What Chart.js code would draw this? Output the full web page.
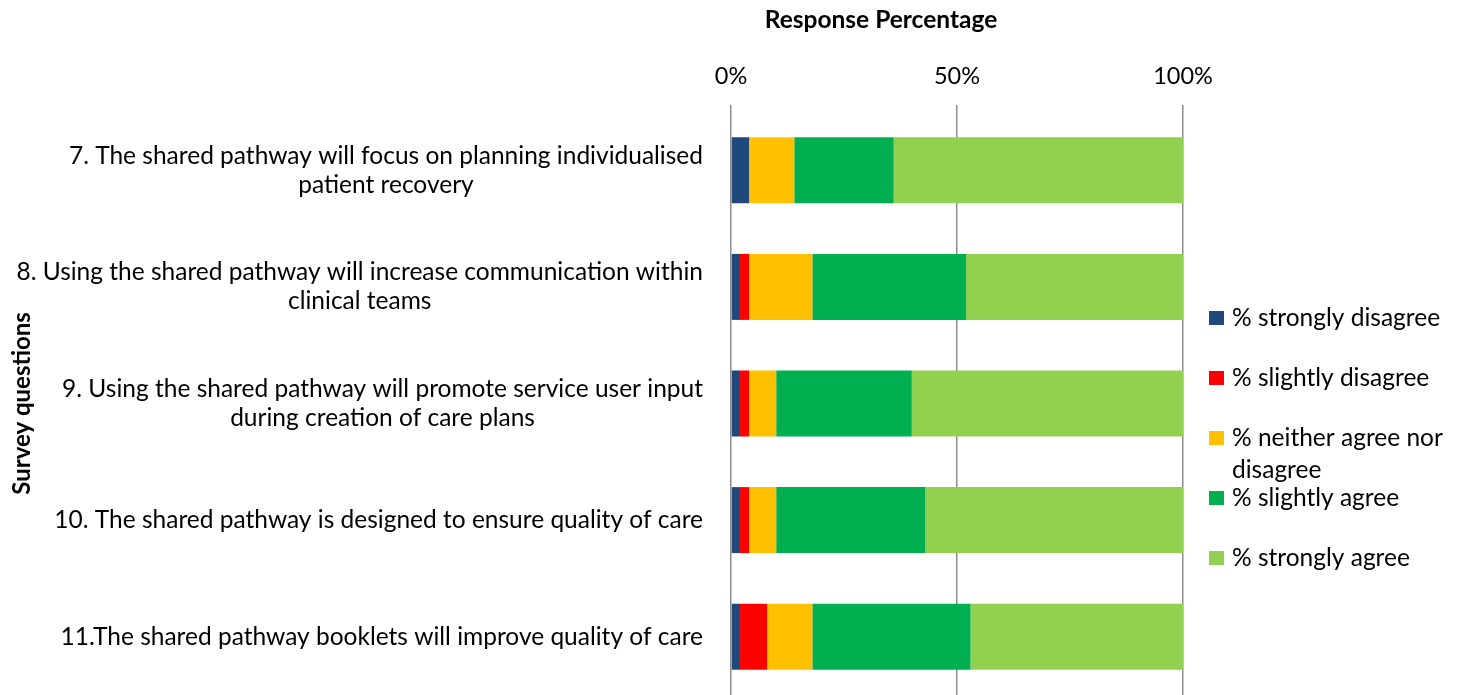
<!DOCTYPE html>
<html>
<head>
<meta charset="utf-8">
<script src="https://cdn.jsdelivr.net/npm/chart.js@4"></script>
<style>
html,body{margin:0;padding:0;background:#fff;}
#wrap{width:1462px;height:695px;position:relative;}
</style>
</head>
<body>
<div id="wrap"><canvas id="c" width="1462" height="695"></canvas></div>
<script>
const categories = [
  ["7. The shared pathway will focus on planning individualised", "patient recovery"],
  ["8. Using the shared pathway will increase communication within", "clinical teams"],
  ["9. Using the shared pathway will promote service user input", "during creation of care plans"],
  ["10. The shared pathway is designed to ensure quality of care"],
  ["11.The shared pathway booklets will improve quality of care"]
];
const seriesNames = ["% strongly disagree", "% slightly disagree", "% neither agree nor disagree", "% slightly agree", "% strongly agree"];
const stronglyDisagree = [4, 2, 2, 2, 2];
const slightlyDisagree = [0, 2, 2, 2, 6];
const neitherAgree     = [10, 14, 6, 6, 10];
const slightlyAgree    = [22, 34, 30, 33, 35];
const stronglyAgree    = [64, 48, 60, 57, 47];
const xTicks = [0, 50, 100];
const xTitle = "Response Percentage";
const yTitle = "Survey questions";
const colors = ["#1F497D", "#FF0000", "#FFC000", "#00B050", "#92D050"];

const FONT = "Lato, 'Open Sans', sans-serif";
const LABEL_SIZE = 24.5;

const seriesValues = [stronglyDisagree, slightlyDisagree, neitherAgree, slightlyAgree, stronglyAgree];

const customDraw = {
  id: 'customDraw',
  afterDraw(chart) {
    const ctx = chart.ctx;
    const ca = chart.chartArea;
    const yScale = chart.scales.y;
    ctx.save();
    ctx.fillStyle = '#000';
    ctx.font = LABEL_SIZE + 'px ' + FONT;
    ctx.textBaseline = 'middle';
    ctx.textAlign = 'center';
    const lineH = 29;
    const rightEdge = ca.left - 28;
    categories.forEach((lines, i) => {
      const cy = yScale.getPixelForTick(i);
      let maxW = 0;
      lines.forEach(l => { maxW = Math.max(maxW, ctx.measureText(l).width); });
      const cx = rightEdge - maxW / 2;
      const startY = cy - (lines.length - 1) * lineH / 2;
      lines.forEach((l, k) => ctx.fillText(l, cx, startY + k * lineH));
    });
    ctx.font = 'bold 24.5px ' + FONT;
    ctx.fillText(xTitle, ca.left + 150, 20);
    ctx.font = LABEL_SIZE + 'px ' + FONT;
    ctx.textAlign = 'left';
    const legX = ca.right + 26;
    let legY = 318;
    const maxTextW = 222;
    chart.data.datasets.forEach((ds, i) => {
      ctx.fillStyle = ds.backgroundColor;
      ctx.fillRect(legX, legY - 7, 15, 14);
      ctx.fillStyle = '#000';
      const words = ds.label.split(' ');
      const lines = [];
      let cur = '';
      words.forEach(w => {
        const t = cur ? cur + ' ' + w : w;
        if (ctx.measureText(t).width > maxTextW && cur) { lines.push(cur); cur = w; } else { cur = t; }
      });
      lines.push(cur);
      lines.forEach((l, k) => ctx.fillText(l, legX + 23, legY + k * 32));
      legY += 60;
    });
    ctx.restore();
  }
};

new Chart(document.getElementById('c'), {
  type: 'bar',
  data: {
    labels: categories.map(c => c.join(' ')),
    datasets: seriesNames.map((n, i) => ({
      label: n,
      data: seriesValues[i],
      backgroundColor: colors[i],
      borderWidth: 0,
      barPercentage: 0.566,
      categoryPercentage: 1.0
    }))
  },
  options: {
    indexAxis: 'y',
    responsive: false,
    animation: false,
    layout: { padding: { left: 8, right: 279, top: 0, bottom: 0 } },
    plugins: { legend: { display: false }, tooltip: { enabled: false }, title: { display: false } },
    scales: {
      x: {
        position: 'top',
        stacked: true,
        min: 0, max: 100,
        afterBuildTicks(scale) { scale.ticks = xTicks.map(v => ({ value: v })); },
        afterFit(scale) { scale.height = 112; },
        ticks: {
          callback: v => v + '%',
          font: { family: FONT, size: 23.5 },
          color: '#000',
          padding: 14,
          maxRotation: 0
        },
        grid: { color: '#8c8c8c', lineWidth: 1.5, tickLength: 7, drawTicks: true },
        border: { display: false }
      },
      y: {
        stacked: true,
        ticks: { display: false },
        grid: { display: false },
        border: { display: false },
        afterFit(scale) { scale.width = 731 - 8; },
        title: { display: true, text: yTitle, font: { family: FONT, size: 24, weight: 'bold' }, color: '#000', padding: { top: 0, bottom: 0 } }
      }
    }
  },
  plugins: [customDraw]
});
</script>
</body>
</html>
